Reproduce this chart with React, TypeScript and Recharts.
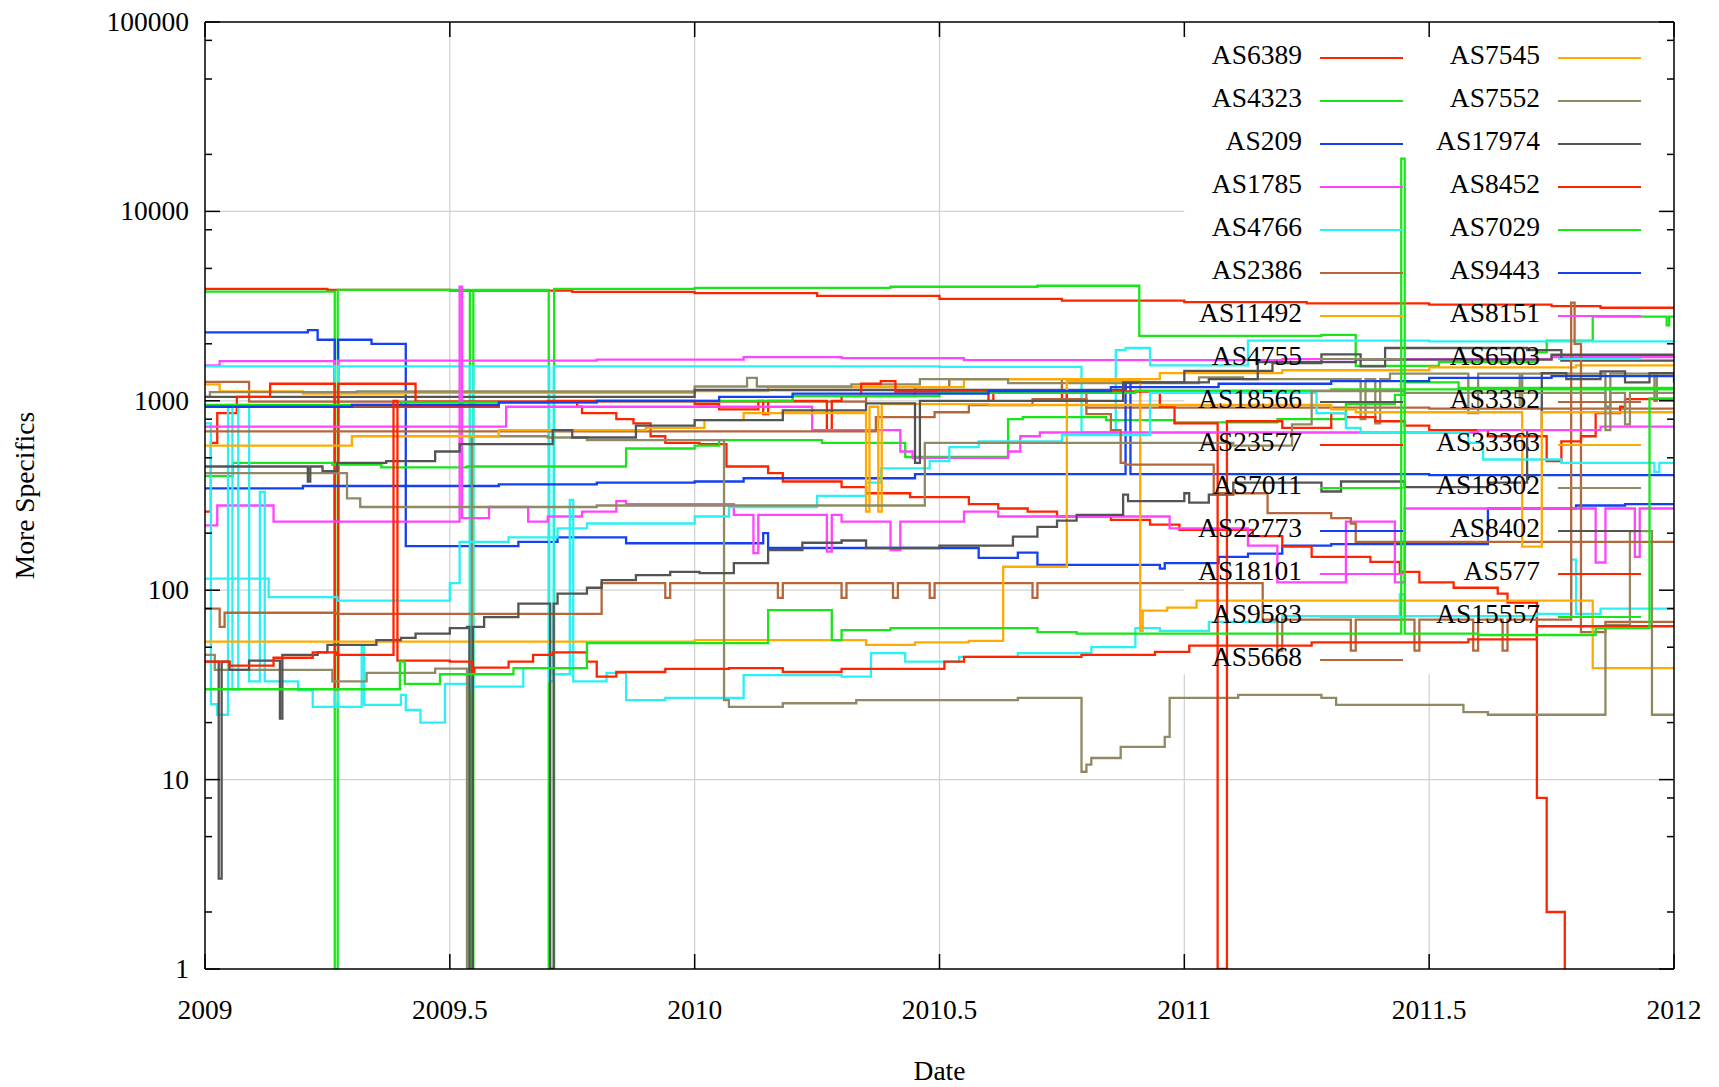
import { LineChart, Line, XAxis, YAxis, ReferenceLine, Legend } from "recharts";

type Pt = [number, number];

const FONT = "'Liberation Serif', 'DejaVu Serif', serif";
const RED = "#ff2400";
const GREEN = "#19e619";
const BLUE = "#1440f0";
const MAGENTA = "#ff44ff";
const CYAN = "#2af0f5";
const SIENNA = "#b5673c";
const ORANGE = "#ffaa00";
const OLIVE = "#8f8a64";
const GRAY = "#545454";

const X_TICKS = [2009, 2009.5, 2010, 2010.5, 2011, 2011.5, 2012];
const Y_TICKS = [1, 2, 5, 8, 10, 20, 50, 80, 100, 200, 500, 800, 1000, 2000, 5000, 8000, 10000, 20000, 50000, 80000, 100000];

// grid lines; the key area (x > 2011, y > 36) stays blank
const GRID_X_FULL = [2009.5, 2010, 2010.5];
const GRID_X_SHORT = [2011, 2011.5];
const GRID_Y_FULL = [10];
const GRID_Y_SHORT = [100, 1000, 10000];
const KEY_LEFT = 2011;
const KEY_BOTTOM = 36;

const AS6389: Pt[] = [[2009, 3900], [2009.25, 3850], [2009.5, 3820], [2009.75, 3760], [2010, 3700], [2010.25, 3580], [2010.5, 3450], [2010.75, 3380], [2011, 3320], [2011.25, 3270], [2011.5, 3220], [2011.75, 3160], [2011.85, 3100], [2012, 3080]];
const AS4323: Pt[] = [[2009, 3770], [2009.265, 1], [2009.271, 3850], [2009.541, 1], [2009.548, 3850], [2009.702, 1], [2009.713, 3900], [2010, 3950], [2010.4, 4000], [2010.7, 4050], [2010.908, 2200], [2011.28, 2230], [2011.35, 1530], [2011.52, 1600], [2011.72, 1800], [2011.74, 2080], [2011.834, 2780], [2011.985, 2500], [2011.99, 2780], [2012, 2780]];
const AS209: Pt[] = [[2009, 2300], [2009.21, 2360], [2009.23, 2100], [2009.265, 230], [2009.272, 2100], [2009.34, 2000], [2009.41, 171], [2009.64, 180], [2009.72, 190], [2009.86, 177], [2010.14, 200], [2010.15, 167], [2010.58, 148], [2010.66, 158], [2010.7, 136], [2010.95, 130], [2010.96, 139], [2011.07, 150], [2011.13, 156], [2011.2, 172], [2011.3, 175], [2011.62, 270], [2011.8, 280], [2011.9, 285], [2012, 285]];
const AS1785: Pt[] = [[2009, 1540], [2009.03, 1620], [2009.265, 230], [2009.272, 1630], [2009.8, 1650], [2010.1, 1700], [2010.3, 1680], [2010.55, 1640], [2011.2, 1660], [2011.75, 1700], [2012, 1700]];
const AS4766: Pt[] = [[2009, 1520], [2009.265, 25], [2009.272, 1520], [2009.541, 30], [2009.548, 1520], [2009.703, 33], [2009.712, 1520], [2010.5, 1510], [2010.79, 680], [2010.86, 1850], [2010.88, 1900], [2010.93, 1540], [2011.13, 2080], [2011.5, 2060], [2012, 2060]];
const AS2386: Pt[] = [[2009, 1260], [2009.09, 990], [2010.35, 1060], [2010.45, 1180], [2010.52, 1300], [2010.75, 1100], [2010.8, 920], [2011.5, 910], [2012, 900]];
const AS11492: Pt[] = [[2009, 1220], [2009.03, 1120], [2009.2, 1090], [2009.41, 1100], [2010, 1125], [2010.15, 1180], [2010.55, 1300], [2010.95, 1400], [2011.2, 1450], [2011.5, 1500], [2011.8, 1540], [2012, 1540]];
const AS4755: Pt[] = [[2009, 1050], [2009.01, 1110], [2009.31, 1120], [2010, 1190], [2010.107, 1320], [2010.127, 1190], [2010.32, 1220], [2010.46, 1300], [2010.64, 1240], [2011.03, 1330], [2011.12, 1300], [2011.36, 800], [2011.37, 1300], [2011.39, 760], [2011.4, 1300], [2011.42, 1390], [2011.58, 860], [2011.6, 1390], [2011.685, 950], [2011.69, 1390], [2011.86, 930], [2011.87, 1390], [2011.96, 1000], [2011.965, 1390], [2012, 1390]];
const AS18566: Pt[] = [[2009, 1050], [2010, 1140], [2010.88, 1250], [2011, 1440], [2011.18, 1580], [2011.28, 1760], [2011.36, 1520], [2011.41, 1900], [2011.7, 1850], [2011.77, 1630], [2012, 1630]];
const AS23577: Pt[] = [[2009, 260], [2009.012, 600], [2009.025, 860], [2009.065, 1050], [2009.133, 1230], [2009.265, 30], [2009.272, 1230], [2009.43, 990], [2009.76, 930], [2009.77, 860], [2009.84, 800], [2009.875, 760], [2009.91, 650], [2009.94, 600], [2010.01, 590], [2010.065, 450], [2010.15, 415], [2010.18, 375], [2010.3, 350], [2010.35, 325], [2010.44, 310], [2010.56, 285], [2010.62, 270], [2010.68, 260], [2010.74, 245], [2010.85, 235], [2010.93, 222], [2010.99, 208], [2011.14, 193], [2011.2, 170], [2011.26, 150], [2011.38, 141], [2011.44, 125], [2011.48, 110], [2011.55, 103], [2011.64, 96], [2011.66, 86], [2011.72, 8], [2011.74, 2], [2011.777, 1], [2011.78, 1]];
const AS7011: Pt[] = [[2009, 400], [2009.057, 470], [2009.26, 460], [2009.36, 445], [2009.535, 450], [2009.86, 560], [2010, 580], [2010.05, 620], [2010.26, 600], [2010.43, 505], [2010.64, 800], [2010.67, 820], [2010.84, 790], [2010.98, 770], [2011.19, 800], [2011.33, 960], [2011.43, 1075], [2011.45, 1250], [2011.56, 1170], [2012, 1170]];
const AS22773: Pt[] = [[2009, 345], [2009.2, 355], [2009.6, 362], [2009.8, 370], [2010, 375], [2010.1, 390], [2010.45, 410], [2010.88, 1250], [2010.89, 410], [2011.5, 405], [2012, 405]];
const AS18101: Pt[] = [[2009, 220], [2009.025, 280], [2009.14, 230], [2009.52, 4000], [2009.525, 240], [2009.58, 275], [2009.66, 230], [2009.7, 245], [2009.77, 260], [2009.84, 295], [2009.86, 285], [2010.08, 250], [2010.12, 157], [2010.13, 250], [2010.27, 160], [2010.28, 250], [2010.3, 230], [2010.4, 163], [2010.42, 230], [2010.55, 260], [2010.62, 245], [2010.97, 212], [2011.13, 172], [2011.19, 110], [2011.33, 230], [2011.43, 110], [2011.45, 270], [2011.84, 140], [2011.86, 270], [2011.92, 150], [2011.93, 270], [2012, 270]];
const AS9583: Pt[] = [[2009, 760], [2009.012, 25], [2009.025, 22], [2009.047, 950], [2009.056, 30], [2009.068, 950], [2009.09, 33], [2009.112, 330], [2009.122, 33], [2009.19, 29.6], [2009.22, 24.2], [2009.32, 50], [2009.325, 24.8], [2009.4, 28], [2009.41, 23.3], [2009.44, 20], [2009.49, 32], [2009.54, 31], [2009.65, 38.8], [2009.71, 36], [2009.745, 300], [2009.752, 33], [2009.82, 36.6], [2009.86, 26.3], [2009.94, 27], [2010.1, 35.6], [2010.3, 35], [2010.36, 46.5], [2010.43, 42], [2010.54, 44.5], [2010.66, 46.5], [2010.81, 50], [2010.9, 63], [2010.95, 61], [2011.05, 68], [2011.2, 73], [2011.44, 95], [2011.45, 73], [2011.72, 75], [2011.79, 145], [2011.8, 75], [2011.85, 80], [2012, 80]];
const AS5668: Pt[] = [[2009, 80], [2009.03, 64], [2009.04, 76], [2009.27, 75], [2009.81, 109], [2009.94, 91], [2009.95, 109], [2010.17, 91], [2010.18, 109], [2010.3, 91], [2010.31, 109], [2010.405, 91], [2010.415, 109], [2010.48, 91], [2010.49, 109], [2010.69, 91], [2010.7, 109], [2011.16, 70], [2011.19, 48], [2011.2, 70], [2011.34, 48], [2011.35, 70], [2011.47, 48], [2011.48, 70], [2011.59, 48], [2011.6, 70], [2011.65, 48], [2011.66, 70], [2011.79, 3300], [2011.797, 2000], [2011.81, 60], [2011.86, 68], [2012, 68]];
const AS7545: Pt[] = [[2009, 53.5], [2010, 54.5], [2010.35, 51.5], [2010.45, 53], [2010.56, 54], [2010.63, 133], [2010.76, 1270], [2010.91, 61], [2010.915, 78], [2010.965, 81], [2011.025, 88], [2011.834, 38.8], [2012, 38.8]];
const AS7552: Pt[] = [[2009, 45.5], [2009.02, 38], [2009.26, 33], [2009.33, 36.6], [2009.47, 38.5], [2009.535, 1], [2009.545, 650], [2009.7, 640], [2009.78, 620], [2010.06, 26.3], [2010.07, 24.2], [2010.18, 25.3], [2010.33, 26.3], [2010.66, 27], [2010.79, 11], [2010.8, 12], [2010.81, 13], [2010.87, 14.9], [2010.96, 16.8], [2010.97, 27], [2011.11, 28], [2011.28, 27], [2011.31, 24.8], [2011.57, 22.7], [2011.62, 22], [2011.86, 65.5], [2011.91, 205], [2011.955, 22], [2012, 22]];
const AS17974: Pt[] = [[2009, 42], [2009.028, 3], [2009.034, 42], [2009.05, 38], [2009.09, 42.5], [2009.153, 21], [2009.158, 45.5], [2009.23, 47], [2009.25, 51.5], [2009.35, 54.5], [2009.4, 56], [2009.43, 59], [2009.5, 63], [2009.535, 64], [2009.54, 1], [2009.547, 64], [2009.57, 72], [2009.64, 85], [2009.705, 1], [2009.712, 85], [2009.72, 96], [2009.78, 103], [2009.81, 113], [2009.88, 120], [2009.95, 125], [2010.01, 123], [2010.08, 139], [2010.15, 163], [2010.22, 178], [2010.3, 183], [2010.35, 167], [2010.5, 172], [2010.65, 192], [2010.7, 216], [2010.74, 233], [2010.78, 250], [2010.875, 320], [2010.885, 295], [2011, 325], [2011.01, 290], [2011.05, 320], [2011.1, 370], [2011.28, 332], [2011.32, 375], [2011.45, 350], [2011.62, 370], [2011.7, 700], [2011.73, 1400], [2011.78, 1300], [2011.85, 1430], [2011.9, 1250], [2011.95, 1400], [2012, 1250]];
const AS8452: Pt[] = [[2009, 930], [2009.6, 980], [2009.7, 1000], [2010, 960], [2010.05, 900], [2010.13, 1000], [2010.14, 850], [2010.15, 1000], [2010.27, 700], [2010.28, 1000], [2010.3, 1060], [2010.34, 1230], [2010.38, 1270], [2010.41, 1120], [2010.6, 1000], [2010.61, 1120], [2010.75, 1000], [2010.76, 1120], [2010.95, 930], [2010.98, 760], [2011.068, 1], [2011.087, 780], [2011.2, 720], [2011.3, 860], [2011.33, 820], [2011.39, 780], [2011.45, 740], [2011.5, 700], [2011.62, 650], [2011.74, 480], [2011.77, 610], [2011.81, 650], [2011.84, 860], [2011.89, 930], [2011.9, 1020], [2012, 1020]];
const AS7029: Pt[] = [[2009, 950], [2009.4, 980], [2009.8, 1000], [2010.2, 1060], [2010.5, 1100], [2010.9, 1130], [2011.3, 1150], [2012, 1150]];
const AS9443: Pt[] = [[2009, 930], [2009.3, 950], [2009.6, 980], [2009.8, 1000], [2010.05, 1050], [2010.2, 1090], [2010.6, 1125], [2010.85, 1180], [2011.07, 1230], [2011.3, 1270], [2011.5, 1320], [2011.75, 1350], [2012, 1350]];
const AS8151: Pt[] = [[2009, 730], [2009.615, 930], [2010.24, 700], [2010.42, 540], [2010.445, 500], [2010.64, 540], [2010.665, 650], [2010.705, 680], [2011.6, 700], [2011.85, 730], [2012, 730]];
const AS6503: Pt[] = [[2009, 115], [2009.13, 92], [2009.27, 88], [2009.5, 109], [2009.52, 180], [2009.62, 190], [2009.72, 212], [2009.78, 225], [2010, 245], [2010.07, 275], [2010.25, 315], [2010.35, 370], [2010.38, 440], [2010.48, 480], [2010.52, 570], [2010.58, 610], [2010.75, 660], [2010.93, 1100], [2011.27, 860], [2011.33, 720], [2011.36, 680], [2011.58, 600], [2011.61, 490], [2011.77, 470], [2011.96, 420], [2011.97, 470], [2012, 470]];
const AS3352: Pt[] = [[2009, 690], [2010.37, 820], [2010.49, 870], [2010.56, 950], [2010.69, 1020], [2010.8, 850], [2010.85, 700], [2010.87, 470], [2010.88, 460], [2011.06, 325], [2011.17, 255], [2011.3, 240], [2011.34, 225], [2011.35, 180], [2012, 180]];
const AS33363: Pt[] = [[2009, 580], [2009.3, 650], [2009.6, 700], [2009.9, 720], [2010.02, 790], [2010.1, 860], [2010.35, 260], [2010.357, 930], [2010.375, 260], [2010.382, 960], [2010.6, 950], [2011.3, 900], [2011.35, 870], [2011.69, 170], [2011.73, 870], [2012, 870]];
const AS18302: Pt[] = [[2009, 415], [2009.29, 305], [2009.317, 275], [2009.8, 280], [2010.47, 600], [2011.1, 580], [2011.22, 750], [2011.26, 1125], [2011.45, 1100], [2011.86, 700], [2011.87, 1100], [2011.9, 750], [2011.91, 1100], [2012, 1100]];
const AS8402: Pt[] = [[2009, 450], [2009.21, 375], [2009.215, 450], [2009.24, 425], [2009.27, 470], [2009.37, 480], [2009.47, 540], [2009.52, 590], [2009.71, 700], [2009.75, 640], [2009.88, 740], [2010, 790], [2010.18, 890], [2010.35, 970], [2010.45, 470], [2010.46, 1000], [2010.875, 1250], [2011.05, 1300], [2011.15, 1600], [2011.35, 1650], [2011.75, 1750], [2012, 1750]];
const AS577: Pt[] = [[2009, 42], [2009.05, 40], [2009.14, 44], [2009.22, 47], [2009.27, 45.5], [2009.385, 1000], [2009.393, 42.5], [2009.5, 42], [2009.545, 37], [2009.55, 39], [2009.62, 42], [2009.67, 45.5], [2009.71, 47], [2009.78, 42], [2009.8, 35], [2009.84, 37], [2009.94, 38.4], [2010.07, 38.8], [2010.18, 37], [2010.3, 38.4], [2010.51, 42], [2010.55, 44.5], [2010.79, 45.5], [2010.94, 47.3], [2011.01, 51], [2011.26, 53], [2011.58, 55], [2011.72, 64.5], [2012, 64.5]];
const AS15557: Pt[] = [[2009, 30], [2009.398, 42], [2009.408, 32], [2009.48, 36], [2009.63, 38.8], [2009.78, 52.6], [2010.15, 78.5], [2010.28, 54.5], [2010.3, 61.5], [2010.4, 63], [2010.7, 60], [2010.78, 59], [2011.443, 19000], [2011.45, 59], [2011.6, 58], [2011.84, 63], [2011.95, 1030], [2012, 1030]];

const SERIES = [
  { name: "AS6389", color: RED, data: AS6389 },
  { name: "AS4323", color: GREEN, data: AS4323 },
  { name: "AS209", color: BLUE, data: AS209 },
  { name: "AS1785", color: MAGENTA, data: AS1785 },
  { name: "AS4766", color: CYAN, data: AS4766 },
  { name: "AS2386", color: SIENNA, data: AS2386 },
  { name: "AS11492", color: ORANGE, data: AS11492 },
  { name: "AS4755", color: OLIVE, data: AS4755 },
  { name: "AS18566", color: GRAY, data: AS18566 },
  { name: "AS23577", color: RED, data: AS23577 },
  { name: "AS7011", color: GREEN, data: AS7011 },
  { name: "AS22773", color: BLUE, data: AS22773 },
  { name: "AS18101", color: MAGENTA, data: AS18101 },
  { name: "AS9583", color: CYAN, data: AS9583 },
  { name: "AS5668", color: SIENNA, data: AS5668 },
  { name: "AS7545", color: ORANGE, data: AS7545 },
  { name: "AS7552", color: OLIVE, data: AS7552 },
  { name: "AS17974", color: GRAY, data: AS17974 },
  { name: "AS8452", color: RED, data: AS8452 },
  { name: "AS7029", color: GREEN, data: AS7029 },
  { name: "AS9443", color: BLUE, data: AS9443 },
  { name: "AS8151", color: MAGENTA, data: AS8151 },
  { name: "AS6503", color: CYAN, data: AS6503 },
  { name: "AS3352", color: SIENNA, data: AS3352 },
  { name: "AS33363", color: ORANGE, data: AS33363 },
  { name: "AS18302", color: OLIVE, data: AS18302 },
  { name: "AS8402", color: GRAY, data: AS8402 },
  { name: "AS577", color: RED, data: AS577 },
  { name: "AS15557", color: GREEN, data: AS15557 },
];

const LEFT_ROWS = 15;
const isMajor = (v: number) => Math.abs(Math.log10(v) - Math.round(Math.log10(v))) < 1e-9;

function LeftTick({ x, y, payload }: any) {
  const major = isMajor(payload.value);
  return (
    <g>
      <line x1={x} y1={y} x2={x + (major ? 15 : 7)} y2={y} stroke="#000" strokeWidth={1.5} />
      {major && (
        <text x={x - 16} y={y + 9} textAnchor="end" fontFamily={FONT} fontSize={27.5} fill="#000">
          {payload.value}
        </text>
      )}
    </g>
  );
}

function RightTick({ x, y, payload }: any) {
  const major = isMajor(payload.value);
  return <line x1={x} y1={y} x2={x - (major ? 15 : 7)} y2={y} stroke="#000" strokeWidth={1.5} />;
}

function BottomTick({ x, y, payload }: any) {
  return (
    <g>
      <line x1={x} y1={y} x2={x} y2={y - 15} stroke="#000" strokeWidth={1.5} />
      <text x={x} y={y + 50} textAnchor="middle" fontFamily={FONT} fontSize={27.5} fill="#000">
        {payload.value}
      </text>
    </g>
  );
}

function TopTick({ x, y }: any) {
  return <line x1={x} y1={y} x2={x} y2={y + 15} stroke="#000" strokeWidth={1.5} />;
}

function YTitle({ viewBox }: any) {
  const cx = viewBox.x + viewBox.width - 181;
  const cy = viewBox.y + viewBox.height / 2;
  return (
    <text x={cx} y={cy} transform={`rotate(-90, ${cx}, ${cy})`} textAnchor="middle" dominantBaseline="central" fontFamily={FONT} fontSize={27.5} fill="#000">
      More Specifics
    </text>
  );
}

function XTitle({ viewBox }: any) {
  return (
    <text x={viewBox.x + viewBox.width / 2} y={viewBox.y + 111} textAnchor="middle" fontFamily={FONT} fontSize={27.5} fill="#000">
      Date
    </text>
  );
}

function KeyBox() {
  return (
    <div style={{ position: "relative", width: 500, height: LEFT_ROWS * 43, fontFamily: FONT, fontSize: 27.5, color: "#000" }}>
      {SERIES.map((s, i) => {
        const col = i < LEFT_ROWS ? 0 : 1;
        const row = col ? i - LEFT_ROWS : i;
        const labelRight = col ? 390 : 152;
        const top = row * 43;
        return (
          <div key={s.name}>
            <span style={{ position: "absolute", right: 500 - labelRight, top, lineHeight: "43px", whiteSpace: "nowrap" }}>{s.name}</span>
            <div style={{ position: "absolute", left: labelRight + 18, top: top + 24, width: 83, height: 2, background: s.color }} />
          </div>
        );
      })}
    </div>
  );
}

const axisStroke = { stroke: "#000", strokeWidth: 1.5 };

export default function App() {
  return (
    <div style={{ position: "absolute", left: 0, top: 0, background: "#fff" }}>
      <LineChart width={1719} height={1087} margin={{ top: 12, right: 35, bottom: 58, left: 145 }}>
        <XAxis dataKey="x" type="number" domain={[2009, 2012]} ticks={X_TICKS} interval={0} allowDataOverflow height={60} tickSize={0} tickMargin={0} tick={<BottomTick />} axisLine={axisStroke} label={<XTitle />} />
        <XAxis xAxisId="top" orientation="top" dataKey="x" type="number" domain={[2009, 2012]} ticks={X_TICKS} interval={0} allowDataOverflow height={10} tickSize={0} tickMargin={0} tick={<TopTick />} axisLine={axisStroke} />
        <YAxis scale="log" type="number" domain={[1, 100000]} ticks={Y_TICKS} interval={0} allowDataOverflow width={60} tickSize={0} tickMargin={0} tick={<LeftTick />} axisLine={axisStroke} label={<YTitle />} />
        <YAxis yAxisId="right" orientation="right" scale="log" type="number" domain={[1, 100000]} ticks={Y_TICKS} interval={0} allowDataOverflow width={10} tickSize={0} tickMargin={0} tick={<RightTick />} axisLine={axisStroke} />
        {GRID_X_FULL.map((v) => (
          <ReferenceLine key={`gx${v}`} zIndex={-100} segment={[{ x: v, y: 1 }, { x: v, y: 100000 }]} stroke="#d3d3d3" strokeWidth={1.3} />
        ))}
        {GRID_X_SHORT.map((v) => (
          <ReferenceLine key={`gxs${v}`} zIndex={-100} segment={[{ x: v, y: 1 }, { x: v, y: KEY_BOTTOM }]} stroke="#d3d3d3" strokeWidth={1.3} />
        ))}
        {GRID_Y_FULL.map((v) => (
          <ReferenceLine key={`gy${v}`} zIndex={-100} segment={[{ x: 2009, y: v }, { x: 2012, y: v }]} stroke="#d3d3d3" strokeWidth={1.3} />
        ))}
        {GRID_Y_SHORT.map((v) => (
          <ReferenceLine key={`gys${v}`} zIndex={-100} segment={[{ x: 2009, y: v }, { x: KEY_LEFT, y: v }]} stroke="#d3d3d3" strokeWidth={1.3} />
        ))}
        {SERIES.map((s) => (
          <Line
            key={s.name}
            name={s.name}
            data={s.data.map(([x, y]) => ({ x, y }))}
            dataKey="y"
            type="stepAfter"
            stroke={s.color}
            strokeWidth={2.3}
            dot={false}
            activeDot={false}
            isAnimationActive={false}
          />
        ))}
        <Legend layout="vertical" align="center" verticalAlign="middle" content={<KeyBox />} wrapperStyle={{ left: 1150, top: 33, width: 500 }} />
      </LineChart>
    </div>
  );
}
